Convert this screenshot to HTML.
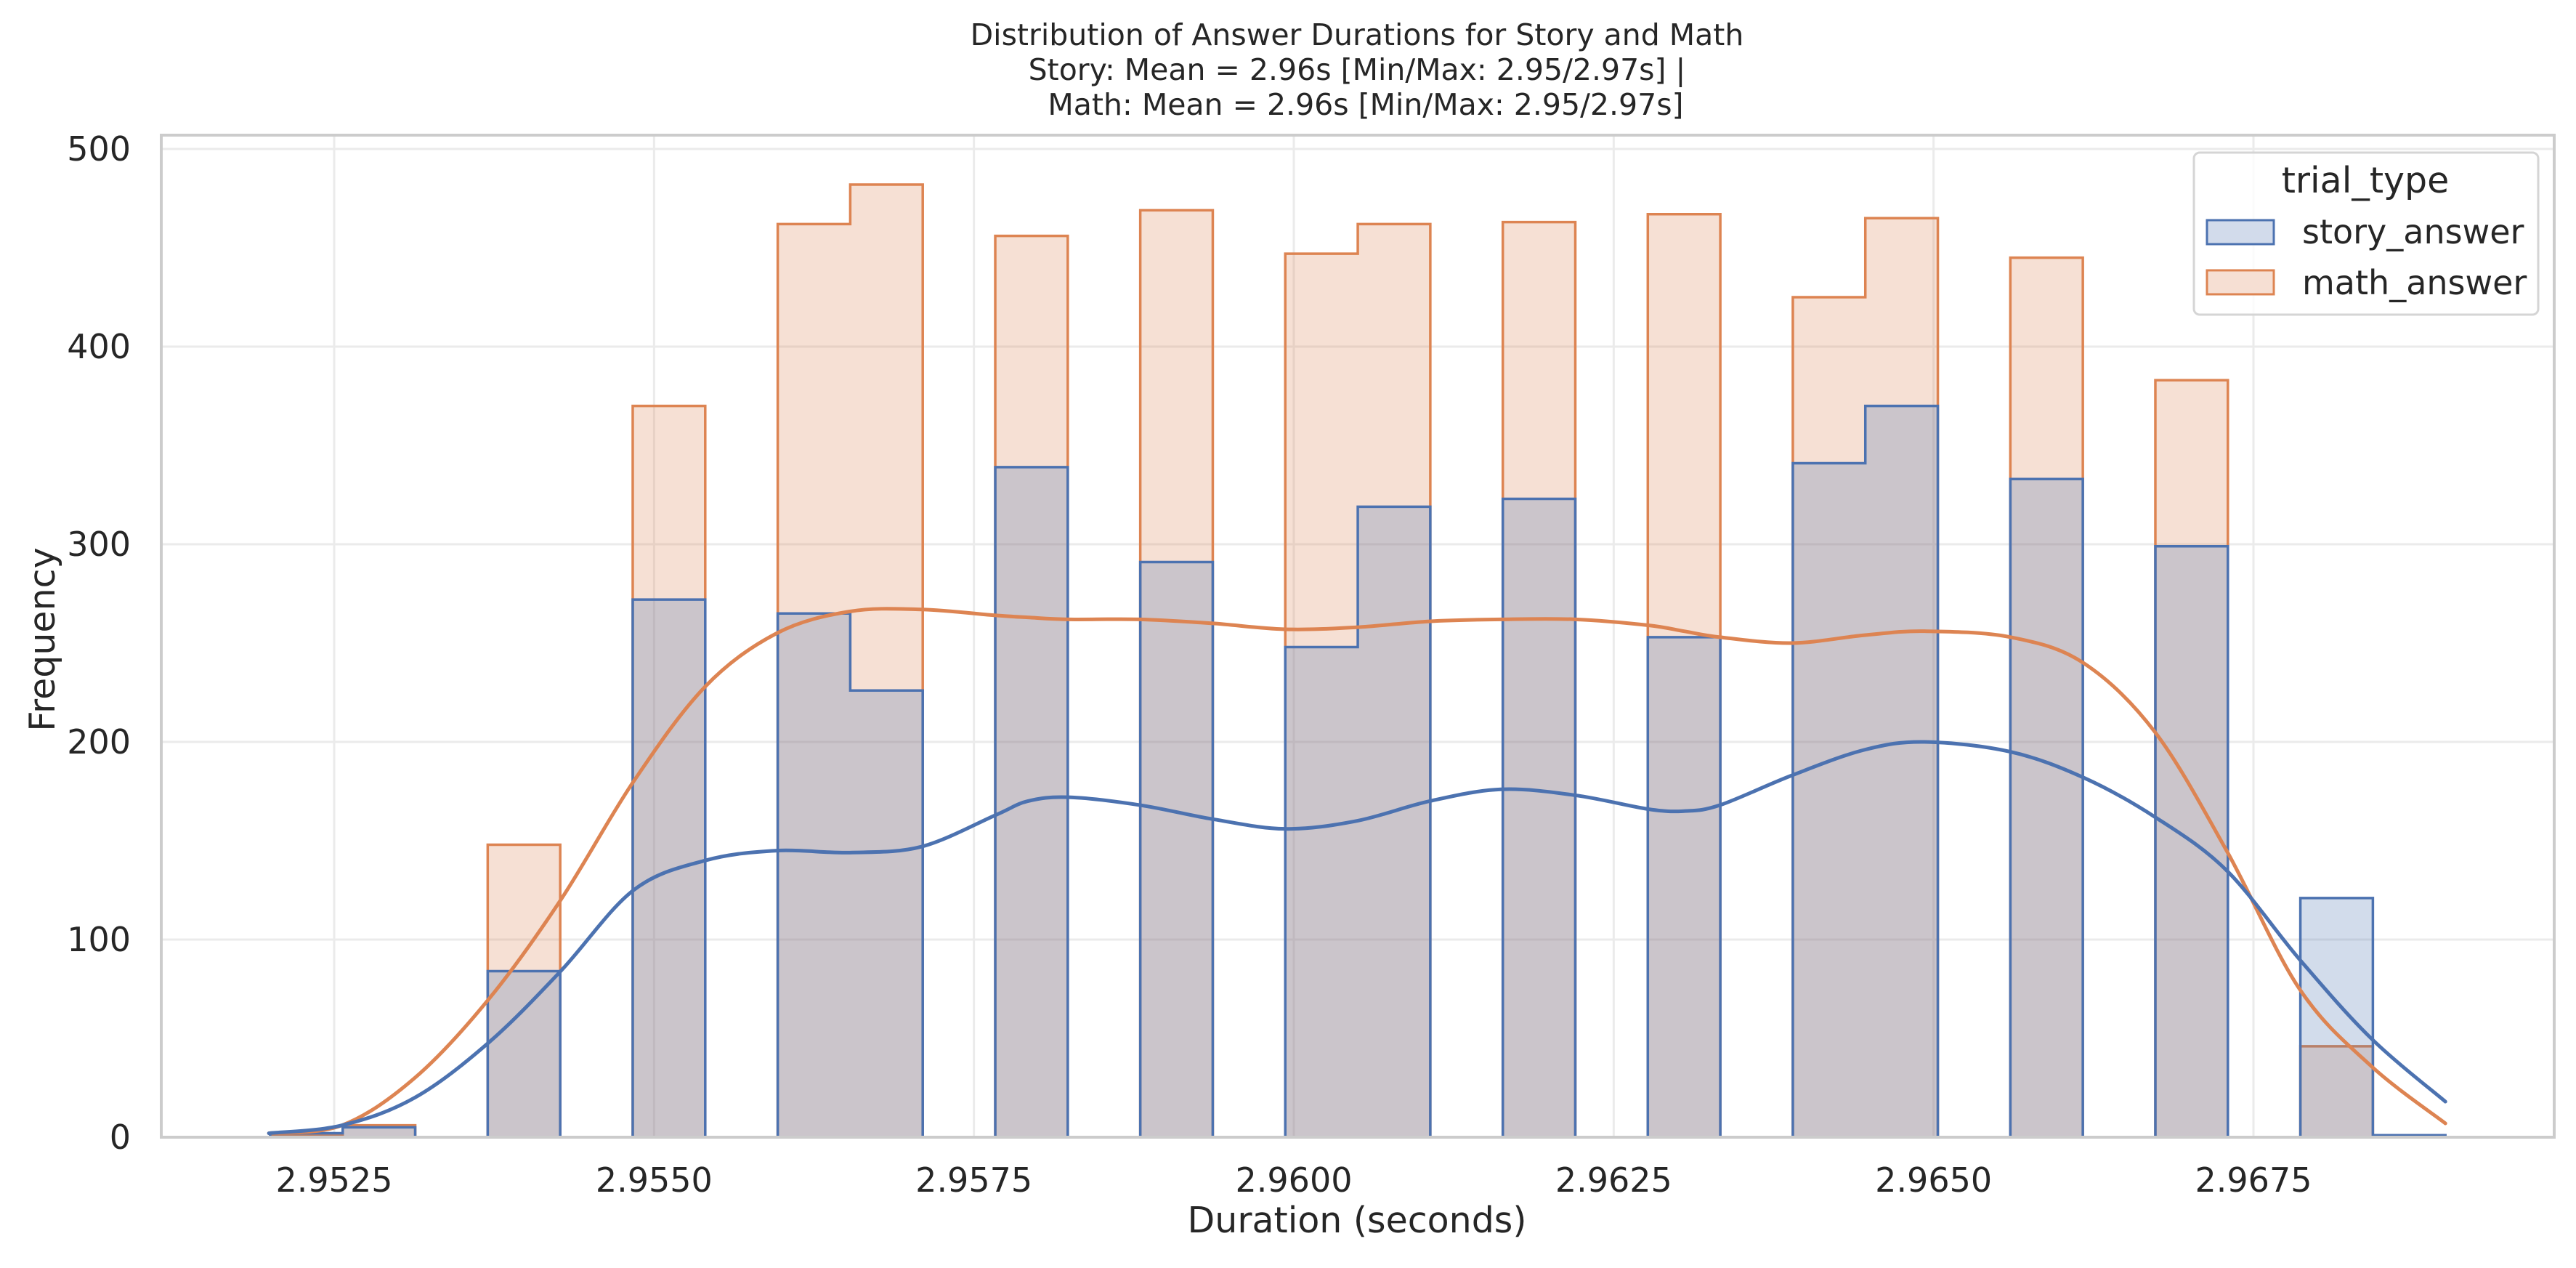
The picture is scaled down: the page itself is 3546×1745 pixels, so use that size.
<!DOCTYPE html>
<html><head><meta charset="utf-8">
<style>
html,body{margin:0;padding:0;background:#fff;}
svg{display:block;font-family:"DejaVu Sans","Liberation Sans",sans-serif;}
</style></head>
<body>
<svg id="chart" width="3546" height="1745" viewBox="0 0 3546 1745" xmlns="http://www.w3.org/2000/svg">
  <rect x="0" y="0" width="3546" height="1745" fill="#fff"/>
  <g id="grid"></g>
  <g id="hist"></g>
  <g id="kde"></g>
  <rect x="222" y="186" width="3294" height="1379" fill="none" stroke="#cccccc" stroke-width="4"/>
  <g id="ticks" fill="#262626" font-size="46"></g>
  <g fill="#262626" font-size="41" text-anchor="middle">
    <text x="1868" y="62">Distribution of Answer Durations for Story and Math</text>
    <text x="1868" y="110">Story: Mean = 2.96s [Min/Max: 2.95/2.97s] |</text>
    <text x="1880" y="158">Math: Mean = 2.96s [Min/Max: 2.95/2.97s]</text>
  </g>
  <text x="1868" y="1696" font-size="49" fill="#262626" text-anchor="middle">Duration (seconds)</text>
  <text transform="translate(75,880) rotate(-90)" font-size="49" fill="#262626" text-anchor="middle">Frequency</text>
  <g>
    <rect x="3020" y="210" width="474" height="223" rx="8" fill="#fff" fill-opacity="0.8" stroke="#d5d5d5" stroke-width="3"/>
    <text x="3256" y="265" font-size="49" fill="#262626" text-anchor="middle">trial_type</text>
    <g>
      <rect x="3038" y="303" width="92" height="33" fill="#d2dbeb" stroke="#4c72b0" stroke-width="3"/>
      <text x="3169" y="335" font-size="46" fill="#262626">story_answer</text>
    </g>
    <g>
      <rect x="3038" y="372" width="92" height="33" fill="#f6dfd3" stroke="#dd8452" stroke-width="3"/>
      <text x="3169" y="405" font-size="46" fill="#262626">math_answer</text>
    </g>
  </g>
</svg>
<script>
const binStart = 2.952;
const binWidth = 0.017 / 30;
const storyCounts = [2,5,0,84,0,272,0,265,226,0,339,0,291,0,248,319,0,323,0,253,0,341,370,0,333,0,299,0,121,1];
const mathCounts  = [1,6,0,148,0,370,0,462,482,0,456,0,469,0,447,462,0,463,0,467,0,425,465,0,445,0,383,0,46,0];
const kdeX = [2.95199,2.95256,2.95313,2.95371,2.95427,2.95484,2.95540,2.95596,2.95653,2.95709,2.95767,2.95792,2.95824,2.95880,2.95936,2.95993,2.96049,2.96106,2.96162,2.96220,2.96277,2.96305,2.96333,2.96389,2.96446,2.96493,2.96560,2.96617,2.96673,2.96729,2.96786,2.96842,2.96900];
const storyKde = [2,6,20,48,84,125,140,145,144,147,163,170,172,168,161,156,160,170,176,173,166,165,168,183,196,200,195,182,162,135,90,50,18];
const mathKde  = [2,6,30,70,120,180,228,255,266,267,264,263,262,262,260,257,258,261,262,262,259,256,253,250,254,256,253,240,205,145,75,36,7];
const xTicks = [2.9525,2.955,2.9575,2.96,2.9625,2.965,2.9675];
const xTickLabels = ["2.9525","2.9550","2.9575","2.9600","2.9625","2.9650","2.9675"];
const yTicks = [0,100,200,300,400,500];

const NS = "http://www.w3.org/2000/svg";
function X(v){ return 460 + (v - 2.9525) * (2642 / 0.015); }
function Y(v){ return 1565 - v * 2.72; }
function mk(tag, attrs, parent){ const e = document.createElementNS(NS, tag); for (const k in attrs) e.setAttribute(k, attrs[k]); parent.appendChild(e); return e; }

const grid = document.getElementById('grid');
xTicks.forEach(t => {
  const l = mk('line', {x1:X(t), x2:X(t), y1:186, y2:1565, stroke:'#ebebeb', 'stroke-width':3}, grid);
  
  
});
yTicks.forEach(t => {
  const l = mk('line', {x1:222, x2:3516, y1:Y(t), y2:Y(t), stroke:'#ebebeb', 'stroke-width':3}, grid);
  
  
});

const ticks = document.getElementById('ticks');
xTicks.forEach((t, i) => {
  const tx = mk('text', {x:X(t), y:1640, 'text-anchor':'middle'}, ticks);
  tx.textContent = xTickLabels[i];
  
  
});
yTicks.forEach(t => {
  const tx = mk('text', {x:180, y:Y(t) + 16, 'text-anchor':'end'}, ticks);
  tx.textContent = String(t);
  
  
});

function stepPath(counts){
  let d = 'M' + X(binStart) + ',' + Y(0);
  counts.forEach((c, i) => {
    const x0 = X(binStart + i * binWidth), x1 = X(binStart + (i + 1) * binWidth);
    d += ' L' + x0 + ',' + Y(c) + ' L' + x1 + ',' + Y(c);
  });
  d += ' L' + X(binStart + counts.length * binWidth) + ',' + Y(0);
  return d;
}
const hist = document.getElementById('hist');
function drawHist(counts, fill, stroke, name){
  const d = stepPath(counts);
  const f = mk('path', {d: d + ' Z', fill: fill, 'fill-opacity': 0.25, stroke: 'none'}, hist);
  
  
  const s = mk('path', {d: d, fill: 'none', stroke: stroke, 'stroke-width': 3.5, 'stroke-linejoin': 'miter'}, hist);
  
  
}
drawHist(mathCounts, '#dd8452', '#dd8452', 'math-histogram');
drawHist(storyCounts, '#4c72b0', '#4c72b0', 'story-histogram');

function smooth(xs, ys){
  const p = xs.map((v, i) => [X(v), Y(ys[i])]);
  let d = 'M' + p[0][0] + ',' + p[0][1];
  for (let i = 0; i < p.length - 1; i++){
    const p0 = p[Math.max(0, i - 1)], p1 = p[i], p2 = p[i + 1], p3 = p[Math.min(p.length - 1, i + 2)];
    const c1x = p1[0] + (p2[0] - p0[0]) / 6, c1y = p1[1] + (p2[1] - p0[1]) / 6;
    const c2x = p2[0] - (p3[0] - p1[0]) / 6, c2y = p2[1] - (p3[1] - p1[1]) / 6;
    d += ' C' + c1x + ',' + c1y + ' ' + c2x + ',' + c2y + ' ' + p2[0] + ',' + p2[1];
  }
  return d;
}
const kde = document.getElementById('kde');
const km = mk('path', {d: smooth(kdeX, mathKde), fill:'none', stroke:'#dd8452', 'stroke-width':5, 'stroke-linecap':'round'}, kde);


const ks = mk('path', {d: smooth(kdeX, storyKde), fill:'none', stroke:'#4c72b0', 'stroke-width':5, 'stroke-linecap':'round'}, kde);


</script>
</body></html>
